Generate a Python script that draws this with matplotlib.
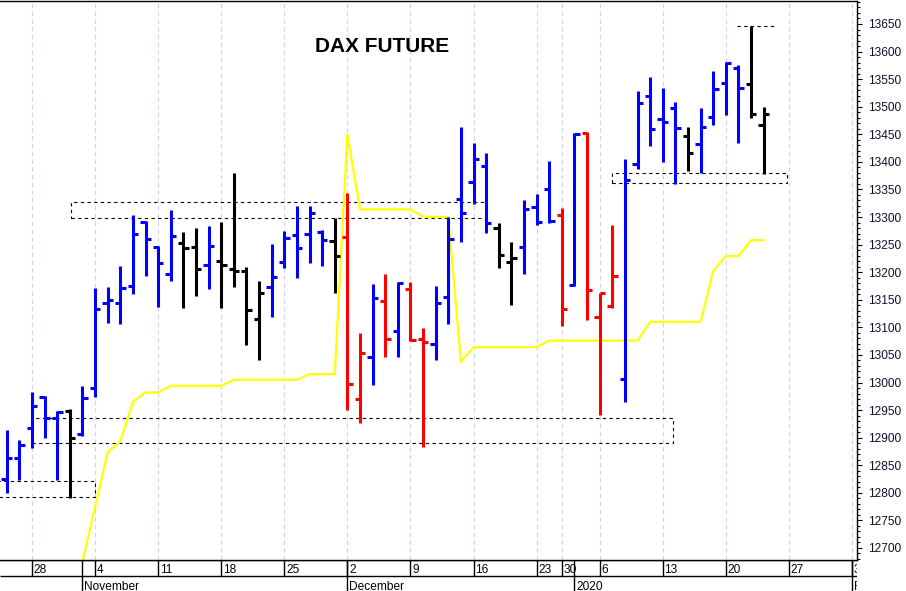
import numpy as np
import pandas as pd
import matplotlib
matplotlib.use("Agg")
import matplotlib.pyplot as plt
from matplotlib.patches import Rectangle
from matplotlib.ticker import MultipleLocator

plt.rcParams["font.family"] = ["Liberation Sans", "DejaVu Sans"]

# trading calendar (Eurex closed on these days)
HOLIDAYS = ["2019-12-24", "2019-12-25", "2019-12-26", "2019-12-31", "2020-01-01"]
FIRST_DAY, LAST_DAY = "2019-10-24", "2020-02-03"

# daily OHLC, Oct 24 2019 .. Jan 23 2020
OPEN = [12825, 12863, 12918, 12974, 12936, 12948, 12907, 12990, 13144, 13144,
        13175, 13291, 13246, 13197, 13253, 13246, 13213, 13220, 13206, 13202,
        13115, 13173, 13218, 13267, 13269, 13273, 13257, 13264, 12970, 13046,
        13148, 13093, 13170, 13079, 13070, 13155, 13333, 13364, 13393, 13280,
        13218, 13246, 13318, 13351, 13304, 13177, 13452, 13119, 13139, 13006,
        13396, 13519, 13478, 13498, 13447, 13432, 13481, 13543, 13570, 13541,
        13467]
HIGH = [12914, 12896, 12983, 12976, 12948, 12952, 12994, 13171, 13173, 13211,
        13304, 13293, 13248, 13313, 13273, 13280, 13284, 13291, 13380, 13209,
        13184, 13251, 13275, 13320, 13320, 13276, 13298, 13344, 13090, 13179,
        13197, 13182, 13182, 13099, 13175, 13300, 13463, 13434, 13416, 13289,
        13255, 13331, 13342, 13402, 13316, 13453, 13454, 13162, 13286, 13405,
        13529, 13554, 13534, 13509, 13463, 13498, 13565, 13581, 13576, 13646,
        13500]
LOW = [12800, 12823, 12881, 12899, 12823, 12791, 12903, 12974, 13108, 13106,
       13160, 13193, 13137, 13184, 13135, 13157, 13170, 13135, 13173, 13068,
       13041, 13119, 13208, 13189, 13217, 13211, 13162, 12950, 12927, 12996,
       13046, 13046, 13075, 12883, 13041, 13106, 13255, 13324, 13271, 13208,
       13141, 13197, 13286, 13289, 13102, 13175, 13113, 12941, 13135, 12965,
       13387, 13429, 13400, 13360, 13383, 13380, 13467, 13485, 13434, 13480,
       13378]
CLOSE = [12863, 12887, 12957, 12936, 12947, 12899, 12972, 13133, 13150, 13171,
         13269, 13260, 13217, 13266, 13244, 13206, 13248, 13213, 13202, 13131,
         13162, 13191, 13262, 13244, 13307, 13258, 13229, 12997, 13054, 13153,
         13079, 13180, 13077, 13073, 13144, 13260, 13307, 13405, 13289, 13231,
         13226, 13315, 13291, 13293, 13133, 13451, 13168, 13162, 13193, 13367,
         13507, 13460, 13472, 13461, 13416, 13463, 13532, 13579, 13534, 13487,
         13487]
BAR_COLOR = ["b", "b", "b", "b", "b", "k", "b", "b", "b", "b",
             "b", "b", "b", "b", "k", "k", "b", "k", "k", "k",
             "k", "b", "b", "b", "b", "b", "k", "r", "r", "b",
             "r", "b", "r", "r", "b", "b", "b", "b", "b", "k",
             "k", "b", "b", "b", "r", "b", "r", "r", "r", "b",
             "b", "b", "b", "b", "k", "b", "b", "b", "b", "k",
             "k"]
# yellow trailing line
NAN = np.nan
STOP = [NAN, NAN, NAN, NAN, NAN, NAN,
        12675, 12774, 12874, 12893, 12965, 12982, 12982, 12994, 12994, 12994,
        12994, 12994, 13005, 13005, 13005, 13005, 13005, 13005, 13015, 13015,
        13015,
        13449, 13314, 13314, 13314, 13314, 13314, 13301, 13300, 13300, 13038,
        13064, 13064, 13064, 13064, 13064, 13064, 13076, 13076,
        13076, 13076, 13076, 13076, 13076, 13076, 13110, 13110, 13110, 13110,
        13110, 13202, 13229, 13229, 13258, 13258]

# dashed boxes: (start index, end index, low, high)
BOX_X0 = [-3, 2.0, 5.07, 47.95]
BOX_X1 = [7.0, 52.84, 38.0, 61.87]
BOX_LO = [12792, 12890, 13298, 13361]
BOX_HI = [12822, 12935, 13328, 13380]
TOP_LINE = (57.91, 60.9, 13646)

MONTH_NAMES = ["November", "December", "2020", "February"]

COLMAP = {"b": "#0000FF", "k": "#000000", "r": "#FF0000"}
GRID = "#D2D2EE"

days = pd.bdate_range(FIRST_DAY, LAST_DAY)
days = days[~days.isin(pd.to_datetime(HOLIDAYS))]
pos = np.arange(len(days))
n = len(OPEN)
x = pos[:n]
cols = [COLMAP[c] for c in BAR_COLOR]

mondays = pos[days.dayofweek == 0]
month_key = days.year * 12 + days.month
month_starts = pos[np.r_[False, np.diff(month_key) != 0]]

W, H = 906, 591
fig = plt.figure(figsize=(W / 100, H / 100), dpi=100)
fig.patch.set_facecolor("white")
ax = fig.add_axes([0, 31 / H, 857 / W, 559 / H])
xlim = (-0.537, 67.398)
ax.set_xlim(*xlim)
ax.set_ylim(12678.2, 13691.7)

# vertical week grid
ax.set_xticks(mondays)
ax.tick_params(axis="x", length=0, labelbottom=False)
ax.grid(axis="x", color=GRID, linestyle=(0, (4, 3)), linewidth=0.8, zorder=0)

# right price scale
ax.yaxis.tick_right()
ax.yaxis.set_major_locator(MultipleLocator(50))
ax.yaxis.set_minor_locator(MultipleLocator(10))
ax.tick_params(axis="y", which="major", length=3.6, width=0.8, pad=4.3,
               labelsize=8.6, labelcolor="#101030")
ax.tick_params(axis="y", which="minor", length=2.2, width=0.8)
ax.spines["left"].set_visible(False)
for s in ("top", "right", "bottom"):
    ax.spines[s].set_linewidth(1.0)

# boxes
for x0, x1, lo, hi in zip(BOX_X0, BOX_X1, BOX_LO, BOX_HI):
    ax.add_patch(Rectangle((x0, lo), x1 - x0, hi - lo, fill=False,
                           edgecolor="black", linewidth=0.8,
                           linestyle=(0, (3, 3)), zorder=2))
ax.hlines(TOP_LINE[2], TOP_LINE[0], TOP_LINE[1], colors="black",
          linewidth=0.8, linestyles=[(0, (3, 3))], zorder=2)

# yellow line
ax.plot(x, STOP, color="#FFFF00", linewidth=1.6, zorder=2.5)

# OHLC bars
TICK = 0.42
LW = 2.2
ax.vlines(x, LOW, HIGH, colors=cols, linewidth=LW, capstyle="butt", zorder=3)
ax.hlines(OPEN, x - TICK, x, colors=cols, linewidth=LW, capstyle="butt", zorder=3)
ax.hlines(CLOSE, x, x + TICK, colors=cols, linewidth=LW, capstyle="butt", zorder=3)

fig.text(382.5 / W, 1 - 52 / H, "DAX FUTURE", fontsize=15, fontweight="bold",
         ha="center", va="baseline")

# date rows below the chart
ax2 = fig.add_axes([0, 0, 857 / W, 31 / H])
ax2.set_xlim(*xlim)
ax2.set_ylim(0, 31)
ax2.axis("off")
ax2.hlines([15, 31], xlim[0], xlim[1], colors="black", linewidth=1.0)
ax2.vlines(mondays, 15, 31, colors="black", linewidth=1.0)
ax2.vlines(month_starts, 0, 31, colors="black", linewidth=1.0)
for p in mondays:
    ax2.text(p + 0.13, 2.8 + 15, str(days[p].day), fontsize=8.6,
             ha="left", va="baseline", clip_on=True)
for p, name in zip(month_starts, MONTH_NAMES):
    ax2.text(p + 0.13, 1.2, name, fontsize=8.6, ha="left", va="baseline",
             clip_on=True)

fig.savefig("out.png", dpi=100, facecolor="white")
